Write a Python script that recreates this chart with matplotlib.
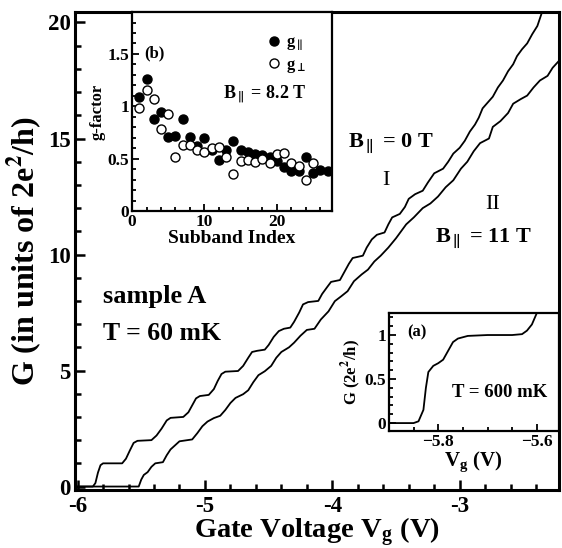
import matplotlib
matplotlib.use("Agg")
import matplotlib.pyplot as plt
from matplotlib.ticker import MultipleLocator

plt.rcParams['font.family'] = ['Liberation Serif', 'DejaVu Serif']
plt.rcParams['font.weight'] = 'bold'
plt.rcParams['axes.labelweight'] = 'bold'
plt.rcParams['mathtext.fontset'] = 'stix'
plt.rcParams['mathtext.default'] = 'bf'

# main panel: conductance vs gate voltage
vg_I = [-6.0, -5.88, -5.86, -5.84, -5.82, -5.80, -5.65, -5.62, -5.59, -5.56, -5.53, -5.42,
        -5.38, -5.34, -5.30, -5.27, -5.17, -5.13, -5.10, -5.07, -5.04, -4.97, -4.93, -4.90,
        -4.87, -4.84, -4.74, -4.70, -4.66, -4.63, -4.59, -4.53, -4.50, -4.46, -4.42, -4.38,
        -4.33, -4.30, -4.26, -4.23, -4.19, -4.11, -4.08, -4.04, -4.01, -3.94, -3.91, -3.87,
        -3.84, -3.76, -3.73, -3.69, -3.65, -3.59, -3.56, -3.53, -3.47, -3.43, -3.40, -3.35,
        -3.29, -3.25, -3.20, -3.13, -3.09, -3.05, -3.00, -2.96, -2.92, -2.88, -2.85, -2.82,
        -2.78, -2.74, -2.70, -2.66, -2.62, -2.58, -2.55, -2.51, -2.47, -2.43, -2.39, -2.35]
g_I = [0.0, 0.0, 0.15, 0.6, 0.92, 1.0, 1.0, 1.2, 1.55, 1.88, 1.97, 2.0,
       2.2, 2.5, 2.85, 2.96, 3.0, 3.2, 3.5, 3.8, 3.9, 3.95, 4.2, 4.55,
       4.85, 4.95, 4.98, 5.2, 5.55, 5.8, 5.85, 5.9, 6.1, 6.45, 6.7, 6.8,
       6.85, 7.1, 7.5, 7.85, 7.95, 8.0, 8.3, 8.6, 8.82, 8.9, 9.2, 9.6,
       9.85, 9.95, 10.3, 10.65, 10.85, 10.95, 11.3, 11.6, 11.75, 12.05, 12.4, 12.6,
       12.75, 13.1, 13.5, 13.7, 14.0, 14.35, 14.6, 14.9, 15.3, 15.6, 15.9, 16.3,
       16.55, 16.8, 17.2, 17.5, 17.9, 18.2, 18.55, 18.85, 19.1, 19.5, 19.85, 20.5]

vg_II = [-6.0, -5.52, -5.50, -5.48, -5.45, -5.42, -5.39, -5.33, -5.30, -5.27, -5.23, -5.20,
         -5.10, -5.06, -5.02, -4.98, -4.93, -4.88, -4.84, -4.80, -4.76, -4.70, -4.66, -4.62,
         -4.58, -4.53, -4.48, -4.44, -4.40, -4.34, -4.30, -4.25, -4.20, -4.14, -4.09, -4.03,
         -3.98, -3.93, -3.88, -3.83, -3.77, -3.72, -3.67, -3.62, -3.56, -3.50, -3.42, -3.36,
         -3.29, -3.23, -3.17, -3.11, -3.05, -2.99, -2.94, -2.89, -2.84, -2.77, -2.74, -2.68,
         -2.62, -2.58, -2.52, -2.47, -2.42, -2.37, -2.31, -2.27, -2.22]
g_II = [0.0, 0.0, 0.3, 0.5, 0.62, 0.85, 1.0, 1.05, 1.35, 1.6, 1.8, 1.95,
        2.03, 2.3, 2.6, 2.8, 2.95, 3.05, 3.3, 3.6, 3.82, 3.98, 4.15, 4.5,
        4.8, 4.97, 5.2, 5.55, 5.8, 6.0, 6.2, 6.5, 6.75, 6.8, 7.2, 7.55,
        7.99, 8.2, 8.42, 8.85, 9.14, 9.35, 9.7, 9.95, 10.3, 10.7, 11.3, 11.6,
        12.0, 12.2, 12.5, 12.9, 13.2, 13.7, 14.0, 14.45, 14.8, 15.0, 15.5, 15.75,
        16.1, 16.5, 16.7, 16.85, 17.2, 17.5, 17.7, 18.05, 18.35]

# inset (b): g-factor vs subband index
sub_par = list(range(1, 28))
g_par = [1.09, 1.26, 0.88, 0.945, 0.705, 0.72, 0.88, 0.705, 0.625, 0.70, 0.58, 0.49, 0.58,
         0.67, 0.58, 0.56, 0.545, 0.53, 0.52, 0.48, 0.42, 0.385, 0.385, 0.52, 0.36, 0.39, 0.38]
sub_perp = list(range(1, 26))
g_perp = [0.98, 1.16, 1.07, 0.78, 0.93, 0.52, 0.63, 0.63, 0.58, 0.56, 0.60, 0.61, 0.52,
          0.35, 0.48, 0.49, 0.47, 0.50, 0.46, 0.54, 0.55, 0.46, 0.43, 0.30, 0.46]

# inset (a): first step at 600 mK
vg_a = [-5.90, -5.85, -5.84, -5.83, -5.825, -5.82, -5.81, -5.80, -5.79, -5.78, -5.77,
        -5.76, -5.74, -5.70, -5.65, -5.63, -5.62, -5.61, -5.60]
g_a = [0.0, 0.0, 0.02, 0.15, 0.4, 0.58, 0.65, 0.68, 0.72, 0.82, 0.92,
       0.96, 0.99, 1.0, 1.0, 1.01, 1.05, 1.12, 1.25]

fig = plt.figure(figsize=(5.62, 5.48), dpi=100)
ax = fig.add_axes([0.1335, 0.1058, 0.8612, 0.8722])
ax.plot(vg_I, g_I, color='black', lw=1.3)
ax.plot(vg_II, g_II, color='black', lw=1.3)
ax.set_xlim(-6.02, -2.22)
ax.set_ylim(-0.15, 20.45)
ax.xaxis.set_major_locator(MultipleLocator(1))
ax.xaxis.set_minor_locator(MultipleLocator(0.2))
ax.yaxis.set_major_locator(MultipleLocator(5))
ax.yaxis.set_minor_locator(MultipleLocator(1))
ax.tick_params(which='both', direction='in', top=False, right=False, width=1.8, labelsize=16.5)
ax.tick_params(axis='x', which='major', length=7, pad=4)
ax.tick_params(axis='y', which='major', length=7, pad=3)
ax.tick_params(which='minor', length=4)
for s in ax.spines.values():
    s.set_linewidth(2.2)
ax.xaxis.set_major_formatter(plt.FuncFormatter(lambda v, p: '%d' % v))
ax.yaxis.set_major_formatter(plt.FuncFormatter(lambda v, p: '%d' % v))
ax.set_xlabel('Gate Voltage V$_\\mathregular{g}$ (V)', fontsize=20.5, labelpad=-1)
ax.set_ylabel('G (in units of 2e$^2$/h)', fontsize=23, labelpad=3)

ax.text(-3.54, 14.8, 'B$_{\\parallel}$ = 0 T', fontsize=16, ha='center', va='center')
ax.text(-3.58, 13.2, 'I', fontsize=16, ha='center', va='center', fontweight='normal')
ax.text(-2.74, 12.15, 'II', fontsize=16, ha='center', va='center', fontweight='normal')
ax.text(-2.81, 10.73, 'B$_{\\parallel}$ = 11 T', fontsize=16, ha='center', va='center')
ax.text(-5.80, 8.2, 'sample A', fontsize=19, ha='left', va='center')
ax.text(-5.80, 6.6, 'T = 60 mK', fontsize=18.5, ha='left', va='center')

# inset (b)
axb = fig.add_axes([0.2349, 0.615, 0.3558, 0.363])
axb.plot(sub_par, g_par, 'o', color='black', ms=6.5, label='g$_{\\parallel}$')
axb.plot(sub_perp, g_perp, 'o', mfc='white', mec='black', mew=1.0, ms=6.5,
         label='g$_{\\bot}$')
axb.set_xlim(0, 27.6)
axb.set_ylim(0, 1.9)
axb.xaxis.set_major_locator(MultipleLocator(10))
axb.xaxis.set_minor_locator(MultipleLocator(2))
axb.yaxis.set_major_locator(MultipleLocator(0.5))
axb.yaxis.set_minor_locator(MultipleLocator(0.1))
axb.yaxis.set_major_formatter(plt.FuncFormatter(lambda v, p: '%g' % v))
axb.tick_params(which='both', direction='in', width=1.3, labelsize=12.5, pad=2)
axb.tick_params(which='major', length=5)
axb.tick_params(which='minor', length=3)
for s in axb.spines.values():
    s.set_linewidth(1.6)
axb.set_xlabel('Subband Index', fontsize=14, labelpad=0)
axb.set_ylabel('g-factor', fontsize=12, labelpad=1)
axb.text(0.11, 0.79, '(b)', transform=axb.transAxes, fontsize=12, ha='center', va='center')
axb.text(0.665, 0.583, 'B$_{\\parallel}$ = 8.2 T', transform=axb.transAxes, fontsize=13,
         ha='center', va='center')
axb.legend(loc='upper left', bbox_to_anchor=(0.66, 0.885), frameon=False, fontsize=12,
           handletextpad=0.1, borderaxespad=0, borderpad=0, labelspacing=0.2,
           handlelength=1.2)

# inset (a)
axa = fig.add_axes([0.692, 0.2135, 0.3027, 0.2153])
axa.plot(vg_a, g_a, color='black', lw=1.3)
axa.set_xlim(-5.9, -5.555)
axa.set_ylim(-0.09, 1.25)
axa.xaxis.set_major_locator(MultipleLocator(0.2))
axa.xaxis.set_minor_locator(MultipleLocator(0.05))
axa.yaxis.set_major_locator(MultipleLocator(0.5))
axa.yaxis.set_minor_locator(MultipleLocator(0.1))
axa.yaxis.set_major_formatter(plt.FuncFormatter(lambda v, p: '%g' % v))
axa.tick_params(which='both', direction='in', width=1.3, labelsize=12.5, pad=2)
axa.tick_params(which='major', length=5)
axa.tick_params(which='minor', length=3)
for s in axa.spines.values():
    s.set_linewidth(1.6)
axa.set_xlabel('V$_\\mathregular{g}$ (V)', fontsize=15, labelpad=0)
axa.set_ylabel('G (2e$^2$/h)', fontsize=12, labelpad=1)
axa.text(0.165, 0.84, '(a)', transform=axa.transAxes, fontsize=12, ha='center', va='center')
axa.text(0.65, 0.33, 'T = 600 mK', transform=axa.transAxes, fontsize=13.5, ha='center', va='center')

fig.savefig('out.png', dpi=100)
